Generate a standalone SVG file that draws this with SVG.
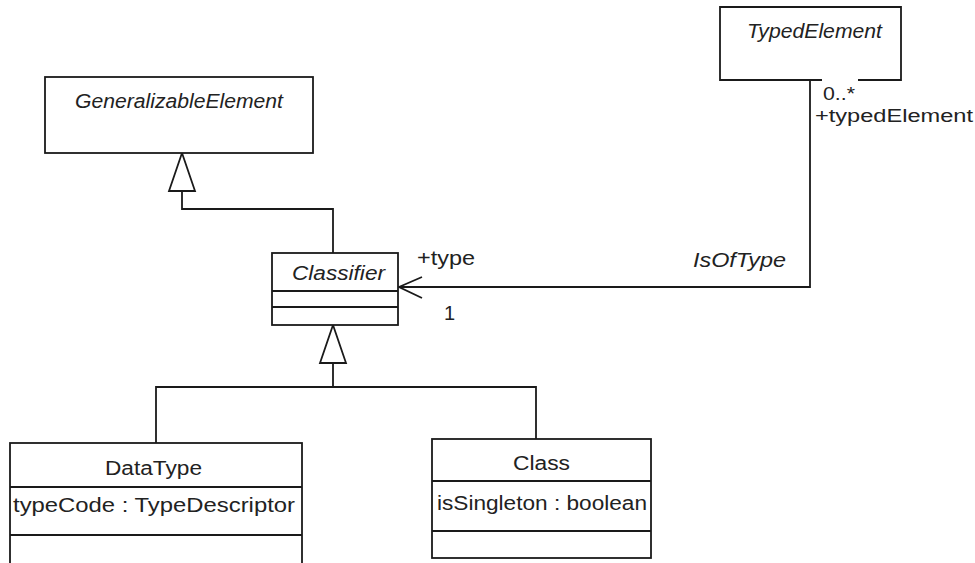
<svg xmlns="http://www.w3.org/2000/svg" width="975" height="563" viewBox="0 0 975 563">
<style>
.box{fill:#fff;stroke:#1a1a1a;stroke-width:1.8}
.ln{fill:none;stroke:#1a1a1a;stroke-width:1.8}
.tri{fill:#fff;stroke:#1a1a1a;stroke-width:1.8;stroke-linejoin:miter}
text{font-family:"Liberation Sans",Arial,sans-serif;font-size:20px;fill:#222}
.it{font-style:italic}
.sm{font-size:18px}
</style>
<rect width="975" height="563" fill="#fff"/>
<g id="connectors">
<path class="ln" d="M333 253 V209 H182 V191"/>
<polygon class="tri" points="182,153 169,191 195,191"/>
<path class="ln" d="M333 363 V387 M156 443 V387 H536 V439"/>
<polygon class="tri" points="333,325 320,363 346,363"/>
<path class="ln" d="M810 80 V287 H399"/>
<polyline class="ln" points="422,277 399,287 422,298"/>
<text x="417" y="265" textLength="58" lengthAdjust="spacingAndGlyphs">+type</text>
<text x="444" y="320">1</text>
<text class="it" x="693" y="267" textLength="93" lengthAdjust="spacingAndGlyphs">IsOfType</text>
<text class="sm" x="823" y="100" textLength="32" lengthAdjust="spacingAndGlyphs">0..*</text>
<text class="sm" x="815" y="122" textLength="158" lengthAdjust="spacingAndGlyphs">+typedElement</text>
</g>
<g id="GeneralizableElement">
<rect class="box" x="45" y="77" width="268" height="76"/>
<text class="it" x="75" y="108" textLength="208" lengthAdjust="spacingAndGlyphs">GeneralizableElement</text>
</g>
<g id="TypedElement">
<path class="ln" d="M822 80 H720 V7 H901 V80 H858"/>
<text class="it" x="747" y="38" textLength="135" lengthAdjust="spacingAndGlyphs">TypedElement</text>
</g>
<g id="Classifier">
<rect class="box" x="272" y="253" width="126" height="72"/>
<path class="ln" d="M272 291 H398 M272 307 H398"/>
<text class="it" x="292" y="280" textLength="93" lengthAdjust="spacingAndGlyphs">Classifier</text>
</g>
<g id="DataType">
<rect class="box" x="10" y="443" width="292" height="130"/>
<path class="ln" d="M10 487 H302 M10 535 H302"/>
<text x="105" y="475" textLength="97" lengthAdjust="spacingAndGlyphs">DataType</text>
<text x="13" y="512" textLength="282" lengthAdjust="spacingAndGlyphs">typeCode : TypeDescriptor</text>
</g>
<g id="Class">
<rect class="box" x="432" y="439" width="219" height="119"/>
<path class="ln" d="M432 481 H651 M432 531 H651"/>
<text x="513" y="470" textLength="57" lengthAdjust="spacingAndGlyphs">Class</text>
<text x="437" y="510" textLength="210" lengthAdjust="spacingAndGlyphs">isSingleton : boolean</text>
</g>
</svg>
